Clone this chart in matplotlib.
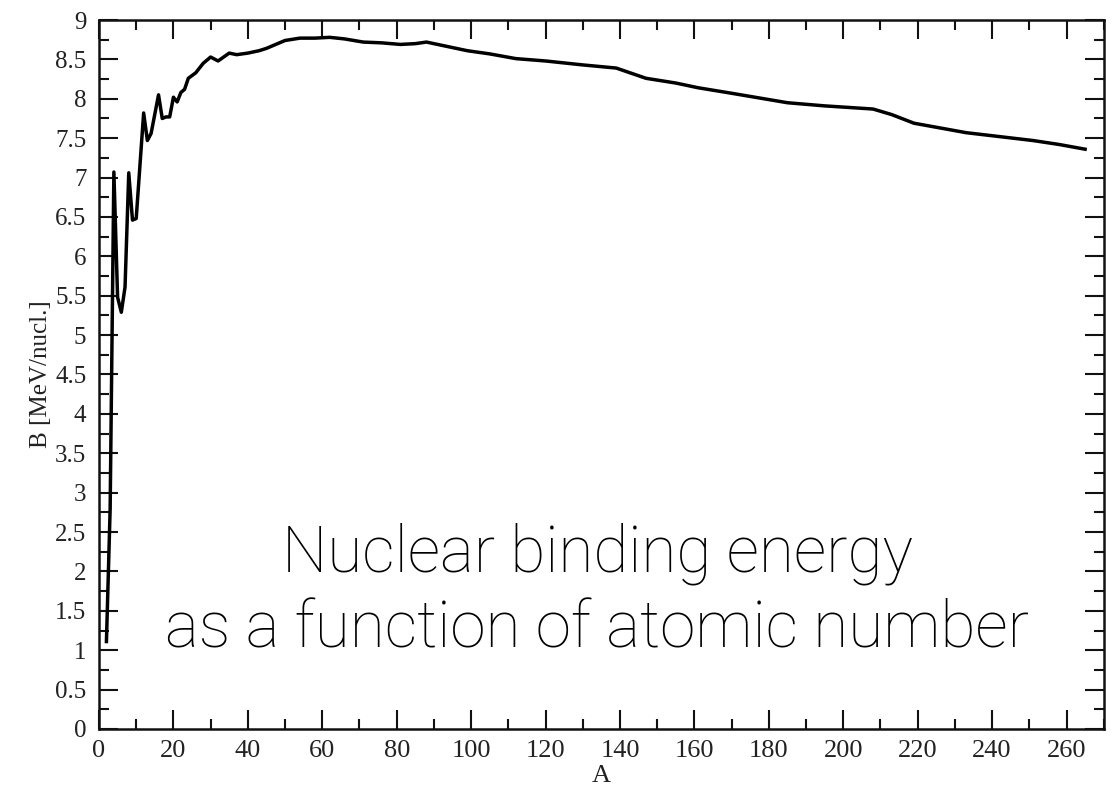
import matplotlib
matplotlib.use('Agg')
import matplotlib.pyplot as plt
from matplotlib.ticker import MultipleLocator

# mass number A and binding energy per nucleon B [MeV]
mass_number = [2, 3, 4, 5, 6, 7, 8, 9, 10, 12, 13, 14, 16, 17, 18, 19, 20, 21,
               22, 23, 24, 26, 28, 30, 32, 35, 37, 40, 43, 45, 48, 50, 54, 58,
               62, 66, 71, 76, 81, 85, 88, 94, 99, 105, 112, 120, 130, 139,
               147, 155, 161, 170, 185, 195, 208, 213, 219, 226, 233, 242,
               251, 258, 265]
binding = [1.11, 2.80, 7.07, 5.48, 5.29, 5.61, 7.06, 6.46, 6.48, 7.82, 7.47,
           7.56, 8.05, 7.75, 7.77, 7.77, 8.02, 7.96, 8.08, 8.12, 8.26, 8.33,
           8.45, 8.53, 8.48, 8.58, 8.56, 8.58, 8.61, 8.64, 8.70, 8.74, 8.77,
           8.77, 8.78, 8.76, 8.72, 8.71, 8.69, 8.70, 8.72, 8.66, 8.61, 8.57,
           8.51, 8.48, 8.43, 8.39, 8.26, 8.20, 8.14, 8.07, 7.95, 7.91, 7.87,
           7.80, 7.69, 7.63, 7.57, 7.52, 7.47, 7.42, 7.36]

x_ticks = list(range(0, 261, 20))
y_ticks = [0, 0.5, 1, 1.5, 2, 2.5, 3, 3.5, 4, 4.5, 5, 5.5, 6, 6.5, 7, 7.5, 8, 8.5, 9]
y_tick_labels = ['0', '0.5', '1', '1.5', '2', '2.5', '3', '3.5', '4', '4.5', '5',
                 '5.5', '6', '6.5', '7', '7.5', '8', '8.5', '9']

serif = ['Liberation Serif', 'DejaVu Serif']

fig = plt.figure(figsize=(11.16, 7.91), dpi=100)
ax = fig.add_axes([0.0887, 0.0784, 0.9003, 0.8963])

ax.plot(mass_number, binding, color='black', linewidth=2.5)

ax.set_xlim(0, 270)
ax.set_ylim(0, 9)
ax.set_xticks(x_ticks)
ax.set_xticklabels([str(t) for t in x_ticks], family=serif, fontsize=19, color='#222222')
ax.set_yticks(y_ticks)
ax.set_yticklabels(y_tick_labels, family=serif, fontsize=18, color='#222222')
ax.xaxis.set_minor_locator(MultipleLocator(10))
ax.yaxis.set_minor_locator(MultipleLocator(0.25))

ax.tick_params(which='both', direction='in', top=True, right=True, width=1.5, color='#111111')
ax.tick_params(which='major', length=14)
ax.tick_params(which='minor', length=7)
ax.tick_params(axis='x', which='major', pad=8)
ax.tick_params(axis='y', which='major', pad=9)
for sp in ax.spines.values():
    sp.set_linewidth(1.8)
    sp.set_color('#111111')

ax.set_xlabel('A', family=serif, fontsize=19, color='#222222', labelpad=2)
ax.set_ylabel('B [MeV/nucl.]', family=serif, fontsize=18, color='#222222', labelpad=2)

# overlaid caption
fig.text(0.535, 0.252, 'Nuclear binding energy\nas a function of atomic number',
         ha='center', va='center', family=['Roboto', 'DejaVu Sans'], fontweight='light',
         fontsize=46, color='black', linespacing=1.28)

fig.savefig('out.png', dpi=100)
